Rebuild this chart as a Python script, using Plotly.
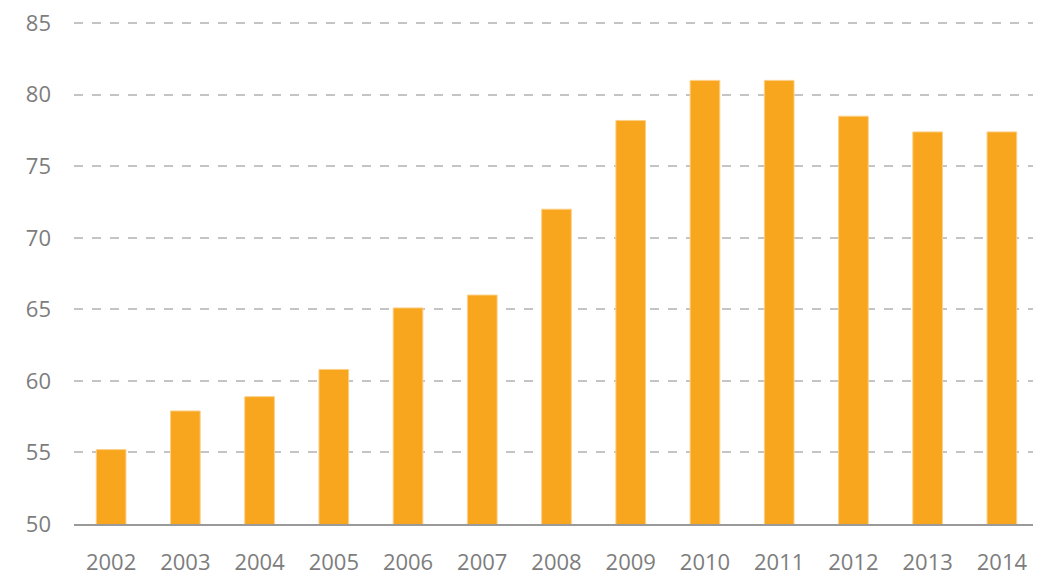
import plotly.graph_objects as go

years = ["2002", "2003", "2004", "2005", "2006", "2007", "2008",
         "2009", "2010", "2011", "2012", "2013", "2014"]
values = [55.2, 57.9, 58.9, 60.8, 65.1, 66.0, 72.0,
          78.2, 81.0, 81.0, 78.5, 77.4, 77.4]
y_ticks = [50, 55, 60, 65, 70, 75, 80, 85]

fig = go.Figure(go.Bar(
    x=years, y=values, width=0.4,
    marker=dict(color="#F8A61E", line=dict(color="#FCD08A", width=1)),
))

fig.update_layout(
    width=1041, height=581,
    margin=dict(l=66, r=10, t=14, b=65),
    paper_bgcolor="white", plot_bgcolor="white",
    showlegend=False,
    font=dict(family="Open Sans", color="#7d7d7d", size=21),
)
fig.update_xaxes(
    type="category", range=[-0.5, 12.5], automargin=False,
    showline=True, linecolor="#9a9a9a", linewidth=2,
    showgrid=False, ticks="", ticklabelstandoff=18,
    ticklabeloverflow="allow",
    tickfont=dict(size=22, color="#7d7d7d"),
)
fig.update_yaxes(
    range=[50, 85.08], automargin=False,
    tickvals=y_ticks, ticktext=[str(v) for v in y_ticks],
    showgrid=True, gridcolor="#c4c4c4", griddash="dash", gridwidth=1.5,
    zeroline=False, showline=False, ticks="", ticklabelstandoff=22,
    ticklabeloverflow="allow",
    tickfont=dict(size=22, color="#7d7d7d"),
)

fig.write_html("out.html")
